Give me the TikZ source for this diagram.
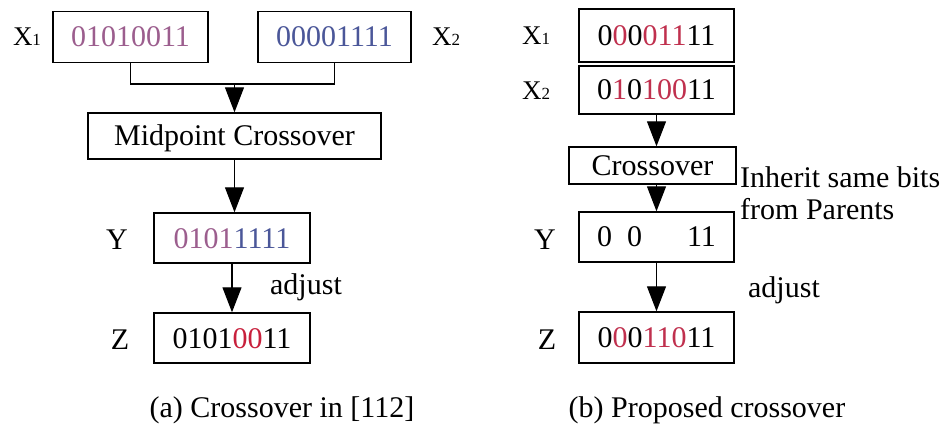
\documentclass[tikz,border=0pt]{standalone}
\usepackage{fontspec}
\setmainfont{Liberation Serif}
\usetikzlibrary{arrows.meta}
\definecolor{mpurple}{HTML}{9C5E8E}
\definecolor{mblue}{HTML}{4B5799}
\definecolor{mred}{HTML}{C8203C}
\definecolor{mpink}{HTML}{C0304E}
\newcommand{\bigf}{\fontsize{30}{36}\selectfont}
\newcommand{\xlab}[1]{{\fontsize{27}{30}\selectfont X}{\fontsize{17}{18}\selectfont #1}}
\tikzset{
  bitbox/.style={draw, line width=1.4pt, inner sep=0pt, font=\bigf, text height=20pt, text depth=0pt},
  lbl/.style={inner sep=0pt, font=\bigf},
  arr/.style={line width=1.2pt, -{Triangle[width=19pt,length=25pt]}},
  conn/.style={line width=1.2pt}
}
\begin{document}
\begin{tikzpicture}[x=1pt,y=-1pt]
\useasboundingbox[fill=white] (0,0) rectangle (946,433);
% ---------- (a) ----------
\node[bitbox, minimum width=155pt, minimum height=51pt] (ax1) at (130.5,37) {\color{mpurple}01010011};
\node[bitbox, minimum width=153pt, minimum height=51pt] (ax2) at (334.5,37) {\color{mblue}00001111};
\node[bitbox, minimum width=293pt, minimum height=46pt] (amid) at (234.5,136) {Midpoint Crossover};
\node[bitbox, minimum width=156pt, minimum height=50pt] (ay) at (232,238) {{\color{mpurple}0101}{\color{mblue}1111}};
\node[bitbox, minimum width=156pt, minimum height=50pt] (az) at (232,338) {0101{\color{mred}00}11};
\node[inner sep=0pt] (lax1) at (27,37) {\xlab{1}};
\node[inner sep=0pt] (lax2) at (446,37) {\xlab{2}};
\node[lbl] (lay) at (117,240) {Y};
\node[lbl] (laz) at (120,340) {Z};
\node[lbl] (aadj) at (306,287) {adjust};
\node[lbl] (capa) at (282,410) {(a) Crossover in [112]};
\coordinate (aj) at (234.5,84);
\draw[conn] (ax1.south) |- (aj) -| (ax2.south);
\draw[arr] (aj) -- (amid.north);
\draw[arr] (amid.south) -- (amid.south |- ay.north);
\draw[arr] (ay.south) -- (ay.south |- az.north);
% ---------- (b) ----------
\node[bitbox, minimum width=155pt, minimum height=53pt] (bx1) at (656.5,35.5) {0{\color{mpink}0}0{\color{mpink}011}11};
\node[bitbox, minimum width=155pt, minimum height=48pt] (bx2) at (656.5,90) {0{\color{mpink}1}0{\color{mpink}100}11};
\node[bitbox, minimum width=167pt, minimum height=37pt] (bcr) at (652.5,165.5) {Crossover};
\node[bitbox, minimum width=155pt, minimum height=50pt] (by) at (656.5,237) {0\hphantom{0}0\hphantom{000}11};
\node[bitbox, minimum width=155pt, minimum height=51pt] (bz) at (656.5,337.5) {0{\color{mpink}0}0{\color{mpink}110}11};
\node[inner sep=0pt] (lbx1) at (536,36) {\xlab{1}};
\node[inner sep=0pt] (lbx2) at (536,91) {\xlab{2}};
\node[lbl] (lby) at (545,240) {Y};
\node[lbl] (lbz) at (547,340) {Z};
\node[lbl, anchor=west, align=left] (binh) at (740,193) {Inherit same bits\\[-4pt]from Parents};
\node[lbl] (badj) at (784,290) {adjust};
\node[lbl] (capb) at (707,410) {(b) Proposed crossover};
\draw[arr] (bx2.south) -- (bx2.south |- bcr.north);
\draw[arr] (bcr.south -| by.north) -- (by.north);
\draw[arr] (by.south) -- (bz.north);
\end{tikzpicture}
\end{document}
